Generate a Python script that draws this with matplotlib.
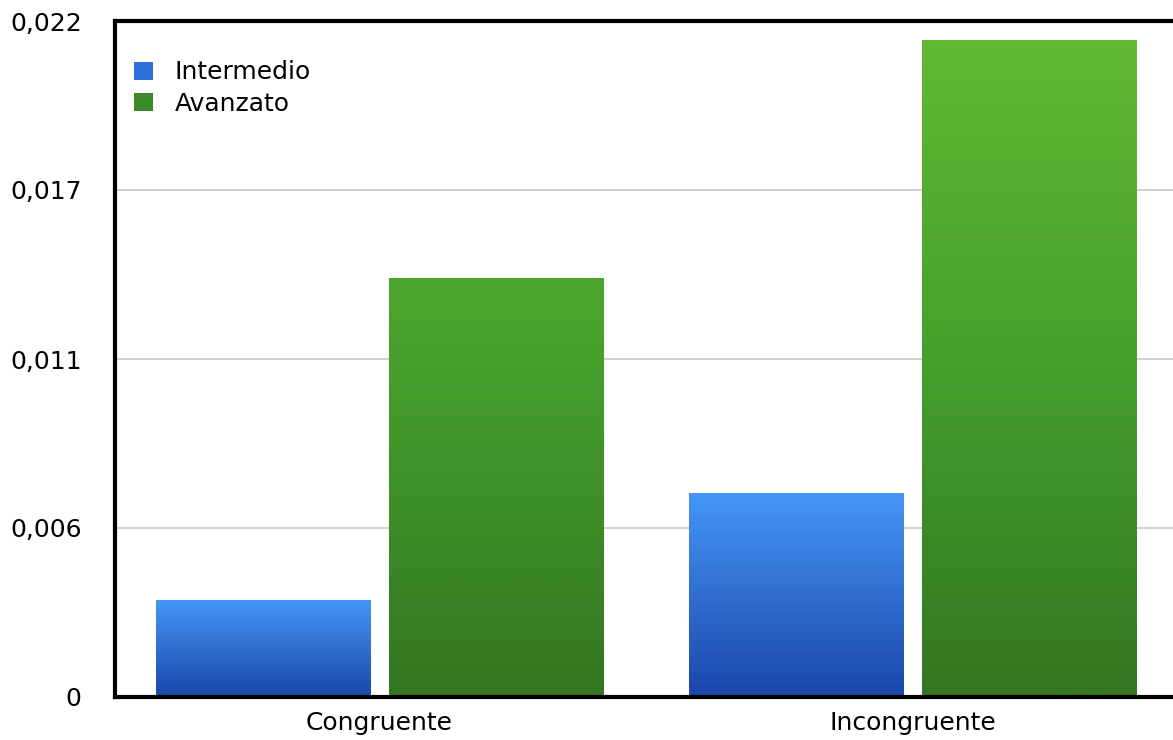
import numpy as np
import matplotlib
matplotlib.use("Agg")
import matplotlib.pyplot as plt
from matplotlib.colors import LinearSegmentedColormap
from matplotlib.patches import Rectangle

categories = ["Congruente", "Incongruente"]
series_names = ["Intermedio", "Avanzato"]
intermedio = [0.00315, 0.00663]
avanzato = [0.01362, 0.02138]
tick_values = [0, 0.0055, 0.011, 0.0165, 0.022]
tick_labels = ["0", "0,006", "0,011", "0,017", "0,022"]

plt.rcParams['font.family'] = ['DejaVu Sans']
FS = 18

fig = plt.figure(figsize=(11.73, 7.40), dpi=100)
unit = 533.5
x0 = 0.0042
ax_left = 115
ax_w = (2 - x0) * unit
ax = fig.add_axes([ax_left/1173, 43/740, ax_w/1173, (697-21)/740])

ymax = 0.022

blue_cmap = LinearSegmentedColormap.from_list("b", ["#1B46AC", "#4596F6"])
green_cmap = LinearSegmentedColormap.from_list("g", ["#347622", "#45A02C", "#64BA34"])

x = np.arange(len(categories)) + 0.5
w = 0.402
off = 0.2184
grad = np.linspace(0, 1, 256).reshape(-1, 1)

for i in range(len(categories)):
    b = ax.bar(x[i] - off, intermedio[i], width=w, color="none", edgecolor="none", zorder=2)[0]
    im = ax.imshow(grad, cmap=blue_cmap, origin="lower", aspect="auto",
                   extent=[x[i] - off - w/2, x[i] - off + w/2, 0, intermedio[i]], zorder=2)
    im.set_clip_path(b)
    g = ax.bar(x[i] + off, avanzato[i], width=w, color="none", edgecolor="none", zorder=2)[0]
    frac = avanzato[i] / ymax
    gg = np.linspace(0, frac, 256).reshape(-1, 1)
    im2 = ax.imshow(gg, cmap=green_cmap, vmin=0, vmax=1, origin="lower", aspect="auto",
                    extent=[x[i] + off - w/2, x[i] + off + w/2, 0, avanzato[i]], zorder=2)
    im2.set_clip_path(g)

ax.set_xlim(x0, 2)
ax.set_ylim(0, ymax)

ax.set_yticks(tick_values)
ax.set_yticklabels(tick_labels, fontsize=FS)
ax.set_xticks(x)
ax.set_xticklabels(categories, fontsize=FS)
ax.tick_params(axis="y", length=0, pad=24)
ax.tick_params(axis="x", length=0, pad=10)
ax.yaxis.grid(True, color="#c8c8c8", linewidth=1.2, zorder=0)
ax.set_axisbelow(True)

for s in ["left", "bottom", "top"]:
    ax.spines[s].set_linewidth(3)
    ax.spines[s].set_color("black")
ax.spines["right"].set_visible(False)

handles = [Rectangle((0, 0), 1, 1, facecolor="#2F6FDB", edgecolor="none"),
           Rectangle((0, 0), 1, 1, facecolor="#3A8A27", edgecolor="none")]
ax.legend(handles, series_names, loc="upper left", bbox_to_anchor=(-0.003, 0.975),
          frameon=False, fontsize=FS, handlelength=0.75, handleheight=0.75,
          handletextpad=0.85, labelspacing=0.3)

fig.savefig("out.png", dpi=100)
